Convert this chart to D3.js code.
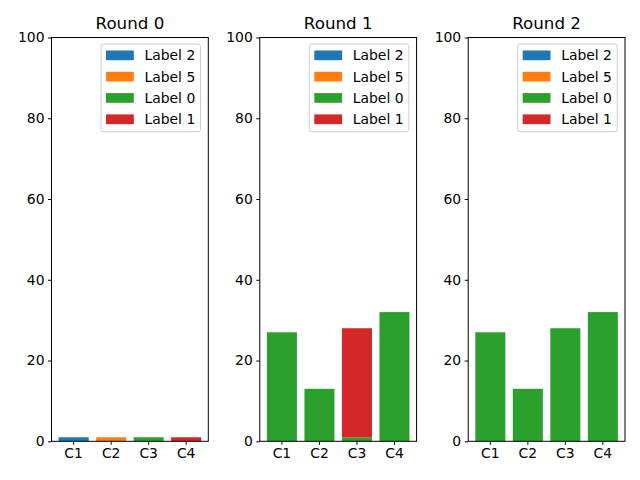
<!DOCTYPE html>
<html>
<head>
<meta charset="utf-8">
<script src="https://cdn.jsdelivr.net/npm/d3@7"></script>
<style>
body { margin: 0; background: #fff; }
text { font-family: "DejaVu Sans", sans-serif; fill: #000; }
</style>
</head>
<body>
<script>
const w = 640, h = 480;

// data
const categories = ['C1', 'C2', 'C3', 'C4'];
const rounds = ['Round 0', 'Round 1', 'Round 2'];
const seriesNames = ['Label 2', 'Label 5', 'Label 0', 'Label 1'];
const colors = ['#1f77b4', '#ff7f0e', '#2ca02c', '#d62728'];
// values per round, per series (same order as seriesNames), per category
const round0 = [[1, 0, 0, 0], [0, 1, 0, 0], [0, 0, 1, 0], [0, 0, 0, 1]];
const round1 = [[0, 0, 0, 0], [0, 0, 0, 0], [27, 13, 1, 32], [0, 0, 27, 0]];
const round2 = [[0, 0, 0, 0], [0, 0, 0, 0], [27, 13, 28, 32], [0, 0, 0, 0]];
const yTicks = [0, 20, 40, 60, 80, 100];

const allRounds = [round0, round1, round2];
const axLefts = [51.5, 259.8, 468.2];
const axW = 156.8, axTop = 37.5, axBottom = 441.3;

const svg = d3.select('body').append('svg').attr('width', w).attr('height', h);

allRounds.forEach((vals, r) => {
  const g = svg.append('g').attr('transform', 'translate(' + axLefts[r] + ',0)');
  const x = d3.scaleBand().domain(categories).range([0, axW]).paddingInner(0.2).paddingOuter(0.19);
  const y = d3.scaleLinear().domain([0, 100]).range([axBottom, axTop]);

  // stacked
  const rows = categories.map((c, i) => {
    const o = { cat: c };
    seriesNames.forEach((s, k) => o[s] = vals[k][i]);
    return o;
  });
  const stack = d3.stack().keys(seriesNames)(rows);
  stack.forEach((layer, k) => {
    g.selectAll('.b' + k).data(layer.filter(d => d[1] > d[0])).enter()
      .append('rect')
      .attr('x', d => x(d.data.cat))
      .attr('width', x.bandwidth())
      .attr('y', d => y(d[1]))
      .attr('height', d => y(d[0]) - y(d[1]))
      .attr('fill', colors[k]);
  });

  const ya = g.append('g')
    .call(d3.axisLeft(y).tickValues(yTicks).tickSize(3.5).tickPadding(3.5));
  const xa = g.append('g').attr('transform', 'translate(0,' + axBottom + ')')
    .call(d3.axisBottom(x).tickSize(3.5).tickPadding(3.5));
  [ya, xa].forEach(a => {
    a.select('.domain').remove();
    a.selectAll('text').style('font-size', '13.9px').style('font-family', '"DejaVu Sans", sans-serif').attr('fill', '#000');
    a.selectAll('line').attr('stroke', '#000').attr('stroke-width', 1);
  });

  g.append('rect').attr('x', 0).attr('y', axTop).attr('width', axW).attr('height', axBottom - axTop)
    .attr('fill', 'none').attr('stroke', '#000').attr('stroke-width', 1);

  g.append('text').attr('x', axW / 2).attr('y', 28.5).attr('text-anchor', 'middle')
    .style('font-size', '16.7px').text(rounds[r]);

  // legend
  const lg = g.append('g').attr('transform', 'translate(' + (axW - 107.3) + ',44)');
  lg.append('rect').attr('x', 0).attr('y', 0).attr('width', 99.5).attr('height', 87.8).attr('rx', 2.5)
    .attr('fill', '#fff').attr('fill-opacity', 0.8).attr('stroke', '#d0d0d0').attr('stroke-width', 1);
  seriesNames.forEach((s, k) => {
    const cy = 11.3 + k * 21.3;
    lg.append('rect').attr('x', 5).attr('y', cy - 4.8).attr('width', 27.8).attr('height', 9.7).attr('fill', colors[k]);
    lg.append('text').attr('x', 43.5).attr('y', cy + 5).style('font-size', '13.9px').text(s);
  });
});
</script>
</body>
</html>
